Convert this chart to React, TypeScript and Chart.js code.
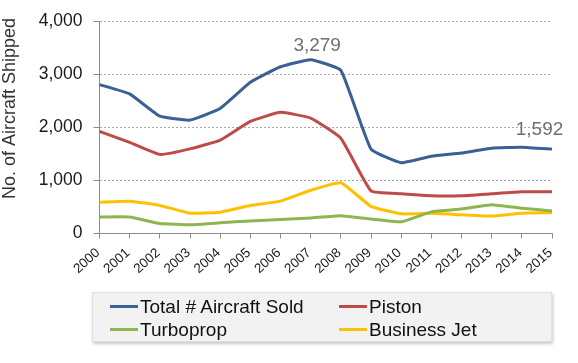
import React, { useEffect, useRef } from "react";
import { Chart, registerables } from "chart.js";

Chart.register(...registerables);

const years = ["2000","2001","2002","2003","2004","2005","2006","2007","2008","2009","2010","2011","2012","2013","2014","2015"];
const totalSold = [2810, 2634, 2213, 2140, 2360, 2853, 3146, 3279, 3078, 1591, 1335, 1456, 1518, 1610, 1628, 1592];
const piston = [1926, 1719, 1493, 1597, 1762, 2115, 2286, 2177, 1798, 805, 750, 713, 713, 750, 786, 786];
const turboprop = [311, 311, 188, 165, 201, 238, 262, 293, 335, 274, 220, 408, 463, 542, 476, 426];
const businessJet = [591, 610, 530, 384, 402, 530, 610, 816, 957, 512, 371, 380, 353, 329, 384, 390];
const seriesNames = ["Total # Aircraft Sold", "Piston", "Turboprop", "Business Jet"];
const seriesColors = ["#3A6095", "#BE4B48", "#8FB550", "#FFC000"];
const yTicks = [0, 1000, 2000, 3000, 4000];
const yTitle = "No. of Aircraft Shipped";
const annotatedIdx = [7, 15];

const FONT = "'Liberation Sans', Arial, sans-serif";

export default function App() {
  const ref = useRef<HTMLCanvasElement | null>(null);
  useEffect(() => {
    if (!ref.current) return;
    const annot = {
      id: "annot",
      afterDatasetsDraw(chart: any) {
        const meta = chart.getDatasetMeta(0);
        const ctx = chart.ctx;
        ctx.save();
        ctx.font = `19px ${FONT}`;
        ctx.fillStyle = "#707070";
        ctx.textAlign = "center";
        ctx.textBaseline = "middle";
        const offs = [[6.5, -13.5], [-12.5, -19.5]];
        annotatedIdx.forEach((i, k) => {
          const p = meta.data[i];
          const txt = totalSold[i].toLocaleString("en-US");
          ctx.fillText(txt, p.x + offs[k][0], p.y + offs[k][1]);
        });
        ctx.restore();
        // y-axis title
        ctx.save();
        ctx.font = `18px ${FONT}`;
        ctx.fillStyle = "#333";
        ctx.textAlign = "center";
        ctx.textBaseline = "middle";
        ctx.translate(10.5, 108.5);
        ctx.rotate(-Math.PI / 2);
        ctx.fillText(yTitle, 0, 0);
        ctx.restore();
        // x-axis category labels, rotated, at the scale's tick positions
        const xs = chart.scales.x;
        ctx.save();
        ctx.font = `13.5px ${FONT}`;
        ctx.fillStyle = "#1a1a1a";
        ctx.textAlign = "right";
        ctx.textBaseline = "middle";
        years.forEach((lab, i) => {
          const x = xs.getPixelForTick(i);
          ctx.save();
          ctx.translate(x - 1.5, xs.top + 17.5);
          ctx.rotate((-42 * Math.PI) / 180);
          ctx.fillText(lab, 0, 0);
          ctx.restore();
        });
        ctx.restore();
      },
    };
    const data = [totalSold, piston, turboprop, businessJet];
    const chart = new Chart(ref.current, {
      type: "line",
      data: {
        labels: years,
        datasets: data.map((d, i) => ({
          label: seriesNames[i],
          data: d,
          borderColor: seriesColors[i],
          backgroundColor: seriesColors[i],
          borderWidth: 3,
          pointRadius: 0,
          tension: 0.12,
          fill: false,
        })),
      },
      options: {
        animation: false,
        responsive: false,
        maintainAspectRatio: false,
        layout: { padding: { top: 14.5, right: 26, left: 0, bottom: 0 } },
        plugins: { legend: { display: false }, tooltip: { enabled: false } },
        scales: {
          x: {
            offset: false,
            grid: { drawOnChartArea: false, drawTicks: true, tickLength: 5, color: "#8c8c8c" },
            border: { color: "#8c8c8c" },
            ticks: { display: false, autoSkip: false },
            afterFit(s: any) { s.height = 129.5; },
          },
          y: {
            min: 0,
            max: 4000,
            afterBuildTicks(s: any) { s.ticks = yTicks.map((v) => ({ value: v })); },
            grid: { color: "#a8a8a8", tickColor: "#8c8c8c", tickLength: 6, tickBorderDash: [], drawTicks: true },
            border: { color: "#8c8c8c", dash: [2, 2] },
            ticks: {
              padding: 11,
              color: "#1a1a1a",
              font: { family: FONT, size: 17.5 },
              callback: (v: any) => Number(v).toLocaleString("en-US"),
            },
            title: { display: false },
            afterFit(s: any) { s.width = 99.5; },
          },
        },
      },
      plugins: [annot],
    } as any);
    return () => chart.destroy();
  }, []);

  const legendItem = (i: number) => (
    <div style={{ display: "flex", alignItems: "center", height: 23 }}>
      <div style={{ width: 28, height: 3, background: seriesColors[i], marginRight: 2 }} />
      <span>{seriesNames[i]}</span>
    </div>
  );

  return (
    <div style={{ position: "fixed", left: 0, top: 0, width: 578, height: 363, background: "#fff", fontFamily: FONT }}>
      <canvas ref={ref} width={578} height={363} style={{ position: "absolute", left: 0, top: 0 }} />
      <div
        style={{
          position: "absolute",
          left: 92,
          top: 292,
          width: 460,
          height: 50,
          background: "#F2F2F2",
          border: "1px solid #e0e0e0",
          boxShadow: "1px 2px 3px rgba(0,0,0,0.22)",
          fontSize: 19,
          color: "#111",
          boxSizing: "border-box",
        }}
      >
        <div style={{ position: "absolute", left: 17, top: 2 }}>{legendItem(0)}{legendItem(2)}</div>
        <div style={{ position: "absolute", left: 246, top: 2 }}>{legendItem(1)}{legendItem(3)}</div>
      </div>
    </div>
  );
}
